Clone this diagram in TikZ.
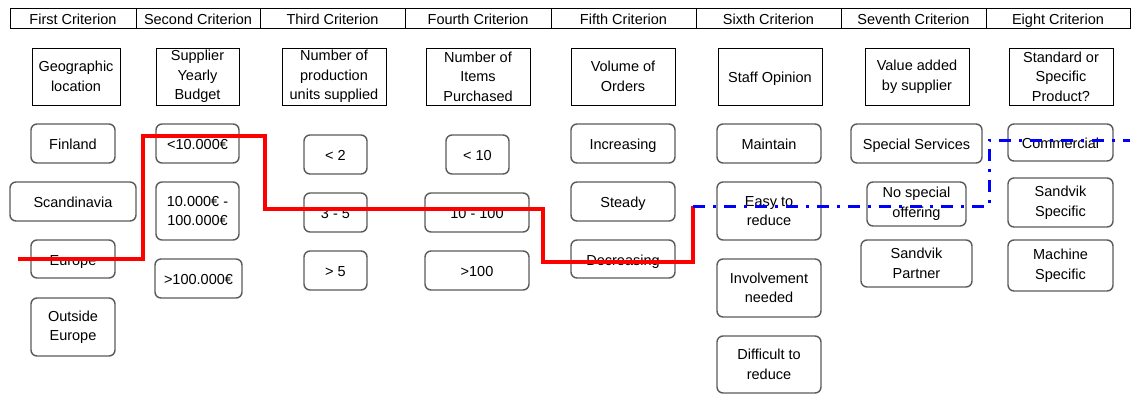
\documentclass[tikz,border=0pt]{standalone}
\usepackage{fontspec}
\setmainfont{Liberation Sans}
\definecolor{boxgray}{RGB}{90,90,90}
\definecolor{pathred}{RGB}{255,0,0}
\definecolor{pathblue}{RGB}{0,0,255}
\begin{document}
\begin{tikzpicture}[x=1pt,y=-1pt,
  txt/.style={font=\fontsize{14.5}{19.5}\selectfont, align=center, inner sep=0pt},
  oneline/.style={text height=12pt, text depth=0pt},
  hdr/.style={txt, oneline, draw=black, line width=0.9pt, minimum height=20pt},
  qbox/.style={txt, draw=black, line width=1pt},
  opt/.style={txt, draw=boxgray, line width=1.4pt, rounded corners=6pt},
  redpath/.style={draw=pathred, line width=3.2pt},
  bluepath/.style={draw=pathblue, line width=3pt, dash pattern=on 12pt off 8pt on 3pt off 8pt}
]
\useasboundingbox (0,0) rectangle (1132,394);
% header row
\node[hdr, minimum width=126pt] (h1) at (73,18) {First Criterion};
\node[hdr, minimum width=124pt] (h2) at (198,18) {Second Criterion};
\node[hdr, minimum width=145pt] (h3) at (332.5,18) {Third Criterion};
\node[hdr, minimum width=146pt] (h4) at (478,18) {Fourth Criterion};
\node[hdr, minimum width=145pt] (h5) at (623.5,18) {Fifth Criterion};
\node[hdr, minimum width=145pt] (h6) at (768.5,18) {Sixth Criterion};
\node[hdr, minimum width=145pt] (h7) at (913.5,18) {Seventh Criterion};
\node[hdr, minimum width=144pt] (h8) at (1058,18) {Eight Criterion};
% criterion boxes
\node[qbox, minimum width=88pt, minimum height=57pt] (q1) at (76,76.5) {Geographic\\location};
\node[qbox, minimum width=83pt, minimum height=57pt] (q2) at (197.5,76.5) {Supplier\\Yearly\\Budget};
\node[qbox, minimum width=104pt, minimum height=57pt] (q3) at (334,76.5) {Number of\\production\\units supplied};
\node[qbox, minimum width=104pt, minimum height=57pt] (q4) at (478,76.5) {Number of\\Items\\Purchased};
\node[qbox, minimum width=104pt, minimum height=57pt] (q5) at (623,76.5) {Volume of\\Orders};
\node[qbox, oneline, minimum width=104pt, minimum height=57pt] (q6) at (770,76.5) {Staff Opinion};
\node[qbox, minimum width=104pt, minimum height=57pt] (q7) at (917,76.5) {Value added\\by supplier};
\node[qbox, minimum width=104pt, minimum height=57pt] (q8) at (1061,76.5) {Standard or\\Specific\\Product?};
% options column 1
\node[opt, oneline, minimum width=84pt, minimum height=39pt] (finland) at (73,143.5) {Finland};
\node[opt, oneline, minimum width=126pt, minimum height=39pt] (scand) at (73,201.5) {Scandinavia};
\node[opt, oneline, minimum width=84pt, minimum height=38pt] (europe) at (73,259) {Europe};
\node[opt, minimum width=84pt, minimum height=58pt] (outside) at (73,327) {Outside\\Europe};
% column 2
\node[opt, oneline, minimum width=83pt, minimum height=39pt] (b1) at (197.5,143.5) {<10.000€};
\node[opt, minimum width=83pt, minimum height=58pt] (b2) at (197.5,211) {10.000€ -\\100.000€};
\node[opt, oneline, minimum width=87pt, minimum height=39pt] (b3) at (198.5,278.5) {>100.000€};
% column 3
\node[opt, oneline, minimum width=63pt, minimum height=39pt] (u1) at (335.5,154.5) {< 2};
\node[opt, oneline, minimum width=63pt, minimum height=39pt] (u2) at (335.5,212.5) {3 - 5};
\node[opt, oneline, minimum width=63pt, minimum height=39pt] (u3) at (335.5,270.5) {> 5};
% column 4
\node[opt, oneline, minimum width=63pt, minimum height=39pt] (i1) at (477.5,154.5) {< 10};
\node[opt, oneline, minimum width=104pt, minimum height=39pt] (i2) at (477,212.5) {10 - 100};
\node[opt, oneline, minimum width=104pt, minimum height=39pt] (i3) at (477,270.5) {>100};
% column 5
\node[opt, oneline, minimum width=104pt, minimum height=39pt] (v1) at (623,143.5) {Increasing};
\node[opt, oneline, minimum width=104pt, minimum height=39pt] (v2) at (623,201.5) {Steady};
\node[opt, oneline, minimum width=104pt, minimum height=38pt] (v3) at (623,259) {Decreasing};
% column 6
\node[opt, oneline, minimum width=104pt, minimum height=39pt] (s1) at (769,143.5) {Maintain};
\node[opt, minimum width=104pt, minimum height=58pt] (s2) at (769,211) {Easy to\\reduce};
\node[opt, minimum width=104pt, minimum height=58pt] (s3) at (769,288) {Involvement\\needed};
\node[opt, minimum width=104pt, minimum height=57pt] (s4) at (769,364.5) {Difficult to\\reduce};
% column 7
\node[opt, oneline, minimum width=131pt, minimum height=39pt] (a1) at (916.5,143.5) {Special Services};
\node[opt, minimum width=99pt, minimum height=44pt, font=\fontsize{14.5}{20}\selectfont] (a2) at (916.5,204) {No special\\offering};
\node[opt, minimum width=111pt, minimum height=47pt] (a3) at (916.5,263.5) {Sandvik\\Partner};
% column 8
\node[opt, oneline, minimum width=105pt, minimum height=37pt] (p1) at (1060.5,142.5) {Commercial};
\node[opt, minimum width=105pt, minimum height=49pt] (p2) at (1060.5,202.5) {Sandvik\\Specific};
\node[opt, minimum width=105pt, minimum height=51pt] (p3) at (1060.5,265.5) {Machine\\Specific};
% path coordinates
\coordinate (r0) at (18,259);
\coordinate (r1) at (143,259);
\coordinate (r2) at (143,136);
\coordinate (r3) at (265,136);
\coordinate (r4) at (265,209);
\coordinate (r5) at (543,209);
\coordinate (r6) at (543,262);
\coordinate (r7) at (693,262);
\coordinate (r8) at (693,206);
\coordinate (k1) at (989,206);
\coordinate (k2) at (989,140);
\coordinate (k3) at (1130,140);
\draw[redpath, line join=miter] (r0) -- (r1) -- (r2) -- (r3) -- (r4) -- (r5) -- (r6) -- (r7) -- (r8);
\draw[bluepath] (r8) -- (k1) -- (k2) -- (k3);
\end{tikzpicture}
\end{document}
